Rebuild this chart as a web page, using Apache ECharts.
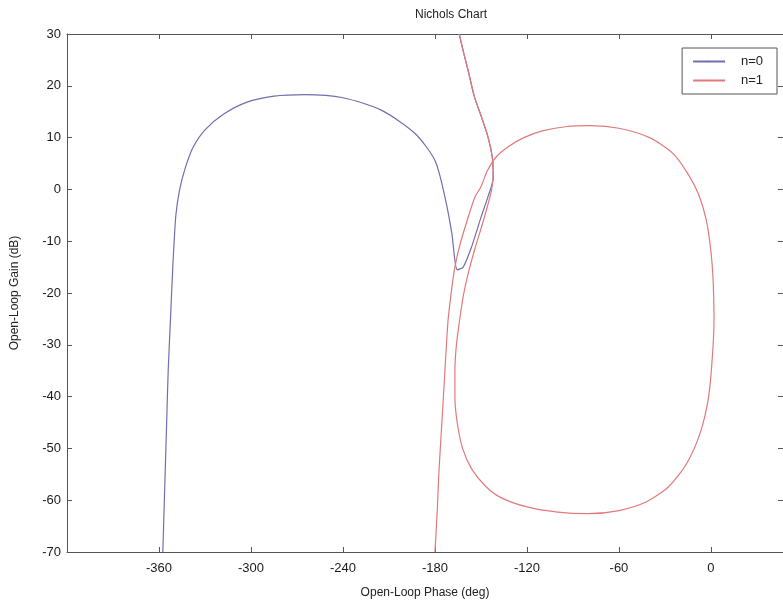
<!DOCTYPE html>
<html>
<head>
<meta charset="utf-8">
<script src="https://cdn.jsdelivr.net/npm/echarts@6/dist/echarts.min.js"></script>
<style>
  html, body { margin: 0; padding: 0; background: #fff; }
  #chart { width: 783px; height: 611px; }
</style>
</head>
<body>
<div id="chart"></div>
<script>
// Phase ticks (deg) and gain ticks (dB)
const phaseTicks = [-360, -300, -240, -180, -120, -60, 0];
const gainTicks = [-70, -60, -50, -40, -30, -20, -10, 0, 10, 20, 30];

// n=0 : [phase (deg), gain (dB)] from low to high frequency
const phaseN0 = [-164.2, -161, -158.4, -154.3, -149.7, -145.4, -142.5, -142, -145.5, -150, -156, -161.6, -165.5, -167, -169, -174, -180, -193, -215, -240, -265, -285, -303, -318, -330, -338, -343, -346.5, -349, -351, -352.5, -354, -355, -356, -357, -357.5];
const gainN0  = [30, 26, 23, 17.9, 14, 10.1, 6, 2.3, -1.5, -5.4, -11, -15, -15.5, -13.7, -8.5, -0.8, 5.6, 10.8, 15.3, 17.7, 18.3, 18, 16.8, 14.5, 11.5, 8, 4, 0, -5, -15, -25, -35, -45, -55, -65, -70];

// n=1 : [phase (deg), gain (dB)] from low to high frequency
const phaseN1 = [-164.2, -161, -158.4, -154.3, -149.7, -145.4, -142.5, -142, -143, -146, -149.7, -154, -158.4, -161.5, -164, -166, -167, -167, -165.5, -162, -156, -147, -137, -120, -100, -80, -60, -42, -28, -16, -7, -1.5, 1, 2, 1.5, 0, -3, -8, -15, -25, -40, -60, -78, -95, -110, -122, -132, -140, -146, -150, -154, -159, -164, -167, -169, -171.5, -173.5, -175.5, -177.5, -178.5, -180];
const gainN1  = [30, 26, 23, 17.9, 14, 10.1, 6, 3, 0, -3.5, -7.3, -11.5, -16.3, -20.5, -25.4, -30, -35, -40, -45, -50, -54, -57.3, -59.5, -61.3, -62.3, -62.6, -62, -60.3, -57.5, -53, -47, -40, -32, -25, -18, -12, -6, -1, 3, 7, 10, 11.8, 12.3, 12.1, 11.3, 10, 8.3, 6.3, 3.5, 0.5, -1.5, -6, -11, -15, -19, -25.4, -35, -45, -55, -62, -70];

const pairs = (xs, ys) => xs.map((x, i) => [x, ys[i]]);

const axisColor = '#555';
const font = 'Liberation Sans, Arial, sans-serif';
const labelStyle = { color: '#1a1a1a', fontSize: 13, fontFamily: font };

const chart = echarts.init(document.getElementById('chart'), null, { renderer: 'canvas' });
chart.setOption({
  backgroundColor: '#fff',
  animation: false,
  title: {
    text: 'Nichols Chart',
    left: 446,
    top: 4,
    textAlign: 'center',
    textStyle: { fontSize: 12, fontWeight: 'normal', color: '#222', fontFamily: font }
  },
  legend: {
    data: ['n=0', 'n=1'],
    orient: 'vertical',
    right: 6,
    top: 48,
    itemWidth: 32,
    itemHeight: 2,
    itemGap: 6,
    padding: [7, 14, 7, 10],
    borderColor: '#555',
    borderWidth: 1,
    backgroundColor: '#fff',
    formatter: '   {name}',
    textStyle: { fontSize: 13, color: '#222', fontFamily: font }
  },
  grid: { left: 67, right: 0, top: 34, bottom: 59, containLabel: false },
  xAxis: [
    {
      type: 'value', min: -420, max: 47, position: 'bottom',
      name: 'Open-Loop Phase (deg)', nameLocation: 'middle', nameGap: 35,
      nameTextStyle: { fontSize: 12, color: '#222', fontFamily: font },
      axisLine: { show: true, onZero: false, lineStyle: { color: axisColor, width: 1 } },
      axisTick: { show: true, inside: true, length: 5, customValues: phaseTicks, lineStyle: { color: axisColor } },
      axisLabel: Object.assign({ customValues: phaseTicks, margin: 10 }, labelStyle),
      splitLine: { show: false }
    },
    {
      type: 'value', min: -420, max: 47, position: 'top',
      axisLine: { show: true, onZero: false, lineStyle: { color: axisColor, width: 1 } },
      axisTick: { show: true, inside: true, length: 5, customValues: phaseTicks, lineStyle: { color: axisColor } },
      axisLabel: { show: false },
      splitLine: { show: false }
    }
  ],
  yAxis: [
    {
      type: 'value', min: -70, max: 30, interval: 10, position: 'left',
      name: 'Open-Loop Gain (dB)', nameLocation: 'middle', nameGap: 46, nameRotate: 90,
      nameTextStyle: { fontSize: 12, color: '#222', fontFamily: font },
      axisLine: { show: true, onZero: false, lineStyle: { color: axisColor, width: 1 } },
      axisTick: { show: true, inside: true, length: 5, lineStyle: { color: axisColor } },
      axisLabel: Object.assign({ margin: 6, customValues: gainTicks }, labelStyle),
      splitLine: { show: false }
    },
    {
      type: 'value', min: -70, max: 30, interval: 10, position: 'right',
      axisLine: { show: true, onZero: false, lineStyle: { color: axisColor, width: 1 } },
      axisTick: { show: true, inside: true, length: 5, lineStyle: { color: axisColor } },
      axisLabel: { show: false },
      splitLine: { show: false }
    }
  ],
  series: [
    {
      name: 'n=0', type: 'line', xAxisIndex: 0, yAxisIndex: 0,
      data: pairs(phaseN0, gainN0),
      showSymbol: false, symbol: 'none', smooth: 0.25,
      lineStyle: { color: '#6f6fae', width: 1.2 },
      itemStyle: { color: '#6f6fae' }
    },
    {
      name: 'n=1', type: 'line', xAxisIndex: 0, yAxisIndex: 0,
      data: pairs(phaseN1, gainN1),
      showSymbol: false, symbol: 'none', smooth: 0.25,
      lineStyle: { color: '#e07a7a', width: 1.2 },
      itemStyle: { color: '#e07a7a' }
    }
  ]
});
</script>
</body>
</html>
